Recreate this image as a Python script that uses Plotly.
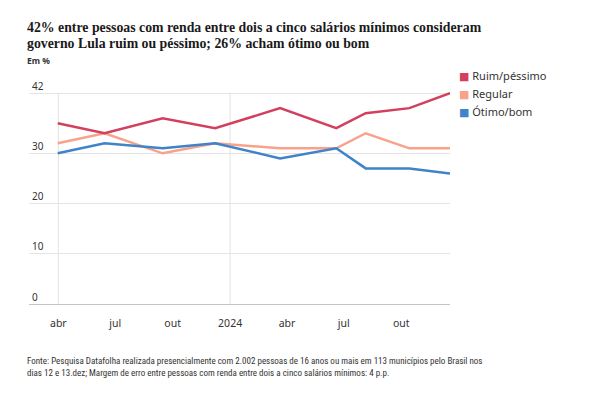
import plotly.graph_objects as go

# ---- data ----
dates = ["2023-03-31", "2023-06-14", "2023-09-15", "2023-12-08", "2024-03-21",
         "2024-06-19", "2024-08-05", "2024-10-14", "2024-12-18"]
ruim_pessimo = [36, 34, 37, 35, 39, 35, 38, 39, 42]
regular = [32, 34, 30, 32, 31, 31, 34, 31, 31]
otimo_bom = [30, 32, 31, 32, 29, 31, 27, 27, 26]

series_names = ["Ruim/péssimo", "Regular", "Ótimo/bom"]
series_colors = ["#D3405F", "#F8A28A", "#3F84C8"]

x_tickvals = ["2023-04-01", "2023-07-01", "2023-10-01", "2024-01-01",
              "2024-04-01", "2024-07-01", "2024-10-01"]
x_ticktext = ["abr", "jul", "out", "2024", "abr", "jul", "out"]
x_gridlines = ["2023-04-01", "2024-01-01"]
x_range = ["2023-02-13", "2024-12-18"]

y_tickvals = [0, 10, 20, 30, 42]
y_range = [0, 45]   # headroom above 42 so the top label can show

title_lines = ["42% entre pessoas com renda entre dois a cinco salários mínimos consideram",
               "governo Lula ruim ou péssimo; 26% acham ótimo ou bom"]
unit_label = "Em %"
source_text = ("Fonte: Pesquisa Datafolha realizada presencialmente com 2.002 pessoas de 16 anos ou mais em 113 municípios pelo Brasil nos<br>"
               "dias 12 e 13.dez; Margem de erro entre pessoas com renda entre dois a cinco salários mínimos: 4 p.p.")

# ---- layout geometry (pixels) ----
W, H = 600, 395
L, R, T, B = 29, 150, 78, 91
PW, PH = W - L - R, H - T - B

fig = go.Figure()
order = [1, 2, 0]
values = [ruim_pessimo, regular, otimo_bom]
for i in order:
    fig.add_trace(go.Scatter(
        x=dates, y=values[i], mode="lines", name=series_names[i],
        line=dict(color=series_colors[i], width=2.5), showlegend=False,
        hoverinfo="x+y+name"))

for d in x_gridlines:
    fig.add_shape(type="line", xref="x", yref="y", x0=d, x1=d, y0=0, y1=max(y_tickvals),
                  line=dict(color="#e2e2e2", width=1), layer="below")

sans = "Noto Sans, Open Sans, DejaVu Sans, sans-serif"
serif = "Liberation Serif, DejaVu Serif, serif"
narrow = "Liberation Sans Narrow, Roboto Condensed, Roboto, sans-serif"


def px_annot(text, x, y, size, family, color="#222", xanchor="left", yanchor="middle"):
    fig.add_annotation(text=text, xref="paper", yref="paper",
                       x=(x - L) / PW, y=(H - B - y) / PH,
                       xanchor=xanchor, yanchor=yanchor, showarrow=False,
                       font=dict(size=size, family=family, color=color), align="left")


px_annot("<b>" + title_lines[0] + "</b>", 25, 27.5, 13.8, serif, "#1a1a1a")
px_annot("<b>" + title_lines[1] + "</b>", 25, 43.5, 13.8, serif, "#1a1a1a")
px_annot("<b>" + unit_label + "</b>", 25, 60, 8.5, sans, "#333")
px_annot(source_text, 25, 367, 9, narrow, "#333")

for k, (nm, col) in enumerate(zip(series_names, series_colors)):
    px_annot("<span style='color:%s'>■</span> %s" % (col, nm), 457, 75 + 18.3 * k, 11, sans, "#333")

fig.update_layout(
    width=W, height=H,
    margin=dict(l=L, r=R, t=T, b=B),
    paper_bgcolor="white", plot_bgcolor="white",
    xaxis=dict(type="date", range=x_range, tickvals=x_tickvals, ticktext=x_ticktext,
               showgrid=False, zeroline=False, showline=True, linecolor="#c4c4c4", linewidth=1.2,
               ticks="", ticklabelstandoff=9,
               tickfont=dict(size=10.5, family=sans, color="#333")),
    yaxis=dict(range=y_range, tickvals=y_tickvals, showgrid=True, gridcolor="#e4e4e4", gridwidth=1,
               zeroline=False, showline=False, ticks="", ticklabelposition="inside top",
               tickfont=dict(size=10, family=sans, color="#333")),
    showlegend=False,
)

fig.write_html("out.html", config={"displayModeBar": False},
               post_script="document.body.style.margin='0px';")
